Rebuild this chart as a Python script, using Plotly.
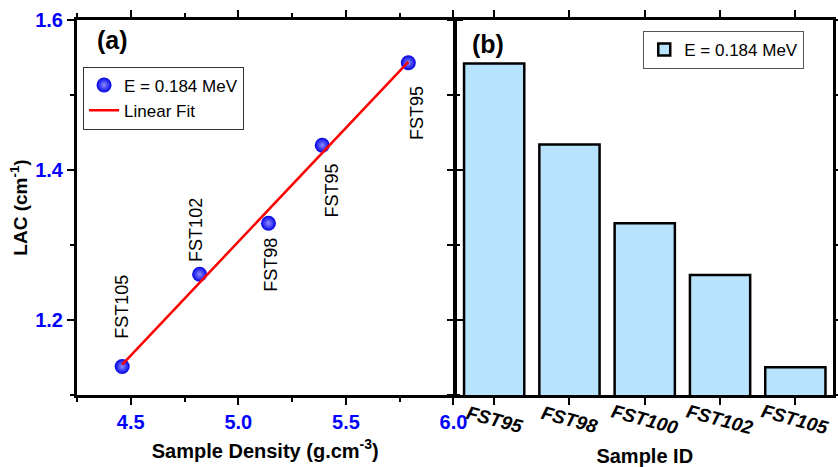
import numpy as np
import plotly.graph_objects as go

# ---- data ----
density = [4.46, 4.82, 5.14, 5.39, 5.79]          # g/cm^3
lac_points = [1.138, 1.261, 1.329, 1.433, 1.543]  # cm^-1
point_labels = ["FST105", "FST102", "FST98", "FST95", "FST95"]

samples = ["FST95", "FST98", "FST100", "FST102", "FST105"]
lac_bars = [1.542, 1.434, 1.329, 1.260, 1.137]

# label pixel offsets relative to points (style/position only)
label_xshift = [-1, -3, 3, 10, 8]
label_yshift = [60, 44, -41, -45, -50]

FONT = "Liberation Sans, Arial, sans-serif"
BLUE = "#0000FF"

# linear fit from data
slope, icpt = np.polyfit(density, lac_points, 1)
fit_x = [min(density), max(density)]
fit_y = [slope * v + icpt for v in fit_x]

fig = go.Figure()

fig.add_trace(go.Scatter(
    x=density, y=lac_points, mode="markers", name="E = 0.184 MeV",
    marker=dict(size=15, color="#0000e6", line=dict(width=0),
                gradient=dict(type="radial", color="#8c8cff")),
    xaxis="x", yaxis="y", legend="legend", legendrank=1))

fig.add_trace(go.Scatter(
    x=fit_x, y=fit_y, mode="lines", name="Linear Fit",
    line=dict(color="#FF0000", width=2.5),
    xaxis="x", yaxis="y", legend="legend", legendrank=2))

fig.add_trace(go.Bar(
    x=samples, y=lac_bars, name="E = 0.184 MeV",
    marker=dict(color="#B7E3FC", line=dict(color="black", width=2.5)),
    xaxis="x2", yaxis="y2", legend="legend2"))

annotations = []
for xv, yv, lab, dx, dy in zip(density, lac_points, point_labels, label_xshift, label_yshift):
    annotations.append(dict(x=xv, y=yv, xref="x", yref="y", text=lab, showarrow=False,
                            textangle=-90, xshift=dx, yshift=dy,
                            font=dict(family=FONT, size=18, color="black")))

for s in samples:
    annotations.append(dict(x=s, y=0, xref="x2", yref="paper", text=s, showarrow=False,
                            textangle=15, xanchor="center", yanchor="middle", yshift=-24,
                            font=dict(family=FONT, size=19, color="black",
                                      weight="bold", style="italic")))

annotations.append(dict(x=0.047, y=0.947, xref="paper", yref="paper", text="<b>(a)</b>",
                        showarrow=False, xanchor="center", yanchor="middle",
                        font=dict(family=FONT, size=25, color="black")))
annotations.append(dict(x=0.543, y=0.936, xref="paper", yref="paper", text="<b>(b)</b>",
                        showarrow=False, xanchor="center", yanchor="middle",
                        font=dict(family=FONT, size=25, color="black")))

axis_common = dict(showline=True, linecolor="black", linewidth=3, ticks="outside",
                   tickcolor="black", tickwidth=2, ticklen=7, showgrid=False, zeroline=False,
                   automargin=False)

fig.update_layout(
    width=838, height=467,
    margin=dict(l=77, r=5, t=20, b=72),
    plot_bgcolor="white", paper_bgcolor="white",
    font=dict(family=FONT, color="black"),
    bargap=0.2,
    xaxis=dict(domain=[0, 0.498], range=[4.25, 6.0], dtick=0.5, tick0=0, mirror="allticks",
               minor=dict(dtick=0.25, ticks="outside", ticklen=4, tickwidth=2, tickcolor="black"),
               tickfont=dict(family=FONT, size=20, color=BLUE, weight="bold"),
               tickformat=".1f",
               title=dict(text="<b>Sample Density (g.cm<sup>-3</sup>)</b>", standoff=12,
                          font=dict(family=FONT, size=20, color="black")),
               **axis_common),
    yaxis=dict(domain=[0, 1], range=[1.1, 1.6], dtick=0.2, tick0=0, mirror="allticks",
               minor=dict(dtick=0.1, ticks="outside", ticklen=4, tickwidth=2, tickcolor="black"),
               tickfont=dict(family=FONT, size=20, color=BLUE, weight="bold"),
               tickformat=".1f",
               title=dict(text="<b>LAC (cm<sup>-1</sup>)</b>", standoff=3,
                          font=dict(family=FONT, size=19, color="black")),
               **axis_common),
    xaxis2=dict(domain=[0.502, 1], anchor="y2", range=[-0.5, 4.5], mirror="ticks",
                showticklabels=False,
                title=dict(text="<b>Sample ID</b>", standoff=49,
                           font=dict(family=FONT, size=20, color="black")),
                **axis_common),
    yaxis2=dict(domain=[0, 1], anchor="x2", range=[1.1, 1.6], dtick=0.1, tick0=0,
                mirror="ticks", showticklabels=False, **axis_common),
    legend=dict(x=0.008, y=0.876, xanchor="left", yanchor="top",
                bordercolor="#333333", borderwidth=1, bgcolor="white",
                font=dict(family=FONT, size=17, color="black"), tracegroupgap=0),
    legend2=dict(x=0.749, y=0.971, xanchor="left", yanchor="top",
                 bordercolor="#555555", borderwidth=1, bgcolor="white",
                 font=dict(family=FONT, size=17, color="black")),
    annotations=annotations,
    showlegend=True,
)

fig.write_html("out.html")
